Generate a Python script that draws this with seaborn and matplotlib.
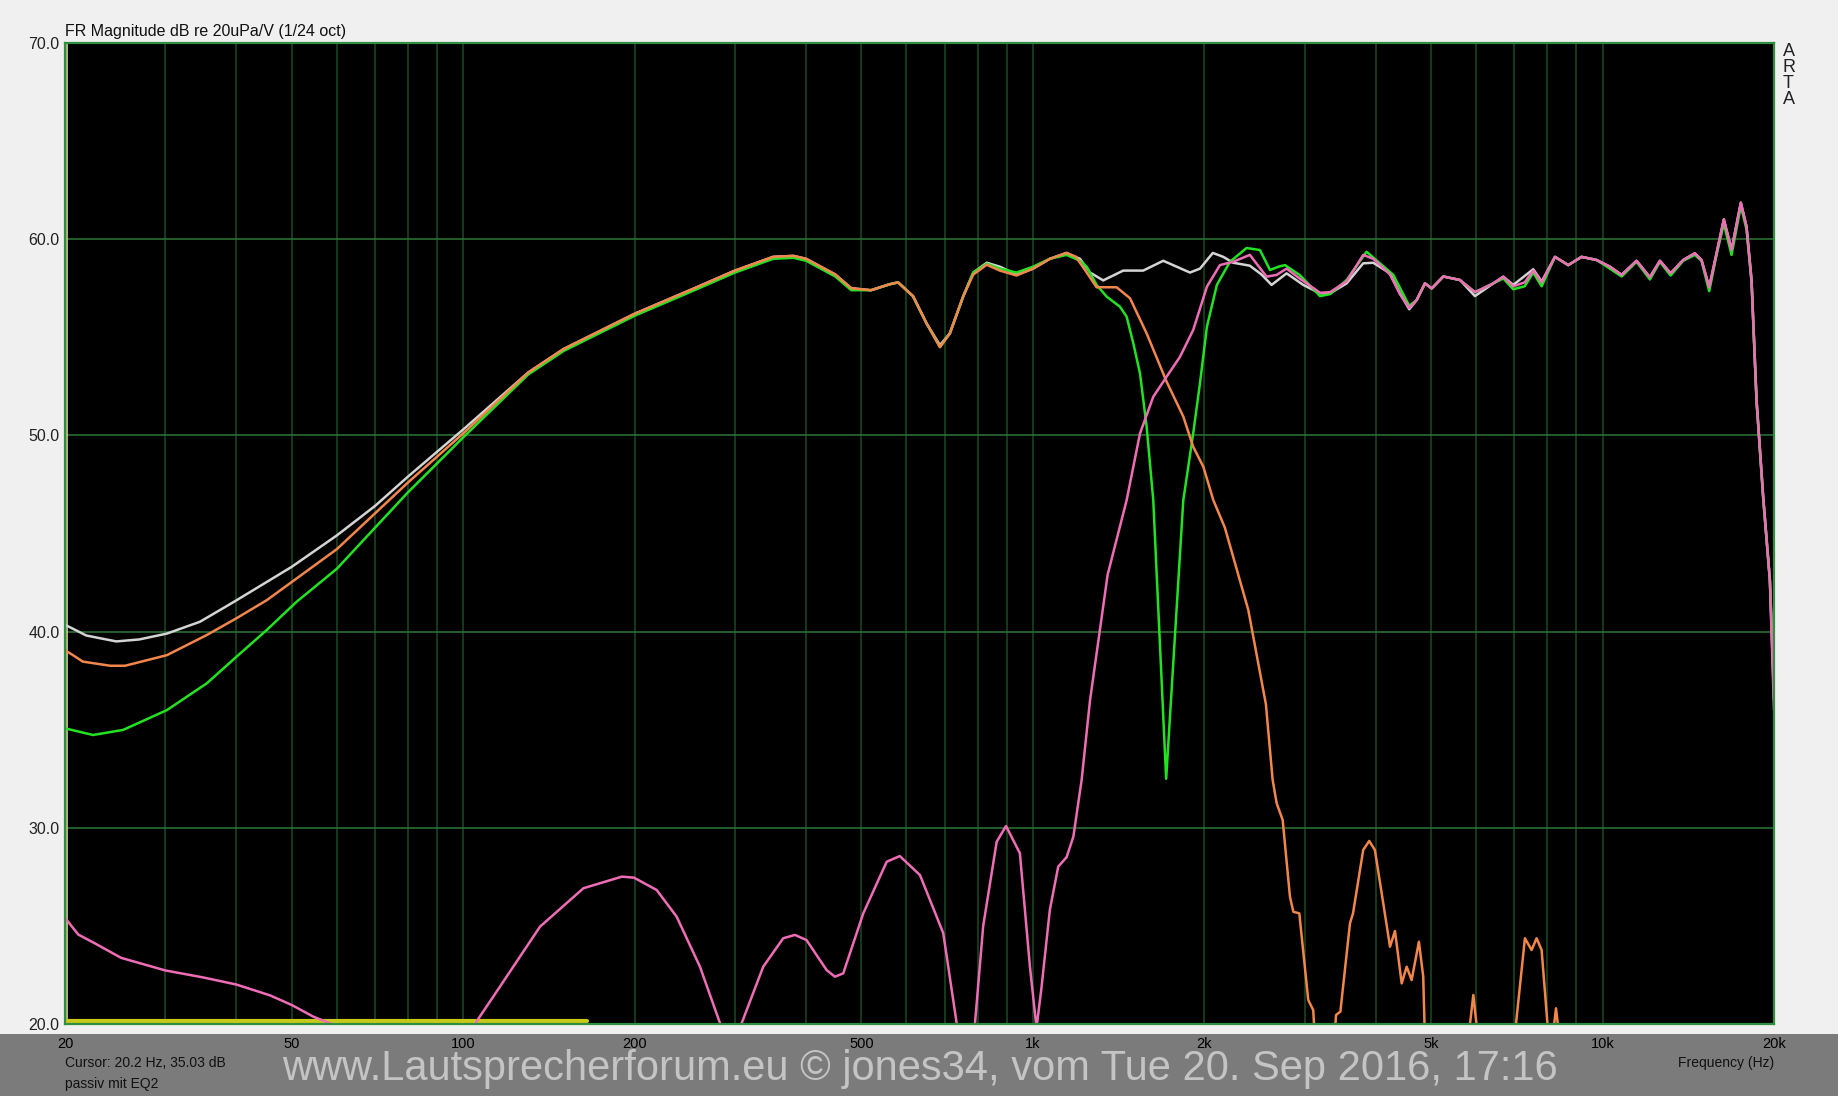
import matplotlib

matplotlib.use("Agg")

import matplotlib.pyplot as plt
import seaborn as sns
from matplotlib.patches import Rectangle
from matplotlib.ticker import FixedLocator, LogLocator, NullFormatter

TITLE = "FR Magnitude dB re 20uPa/V (1/24 oct)"
WATERMARK = "www.Lautsprecherforum.eu \u00a9 jones34, vom Tue 20. Sep 2016, 17:16"
CURSOR_TEXT = "Cursor: 20.2 Hz, 35.03 dB"
NOTE_TEXT = "passiv mit EQ2"

tick_freqs = [20, 50, 100, 200, 500, 1000, 2000, 5000, 10000, 20000]
tick_labels = ["20", "50", "100", "200", "500", "1k", "2k", "5k", "10k", "20k"]
db_ticks = [20, 30, 40, 50, 60, 70]
db_labels = ["20.0", "30.0", "40.0", "50.0", "60.0", "70.0"]

cursor_freq = 20.2

# yellow reference trace at the bottom
ref_freq = [20, 165]
ref_db = [20.15, 20.15]

# white: summed response
white_freq = [
    20, 21.8, 24.6, 27, 30.2, 34.5, 39.5, 50, 60, 70, 80, 100, 130, 150, 200, 250, 300,
    350, 380, 400, 450, 480, 520, 560, 580, 616, 651, 687, 715, 755, 786, 830, 875, 936,
    1001, 1071, 1146, 1210, 1260, 1329, 1441, 1562, 1694, 1788, 1887, 1965, 2070, 2159,
    2247, 2404, 2520, 2625, 2789, 2983, 3192, 3324, 3555, 3801, 3959, 4236, 4410, 4579,
    4718, 4879, 5014, 5255, 5620, 5971, 6433, 6697, 6972, 7558, 7819, 8252, 8707, 9189,
    9764, 10304, 10804, 11475, 12112, 12611, 13168, 13855, 14523, 14922, 15391, 15855,
    16329, 16846, 17490, 17898, 18264, 18638, 19143, 19669, 20000,
]
white_db = [
    40.35, 39.8, 39.5, 39.6, 39.9, 40.5, 41.5, 43.3, 44.9, 46.4, 47.9, 50.3, 53.2, 54.4,
    56.2, 57.4, 58.4, 59.1, 59.15, 59.0, 58.2, 57.5, 57.4, 57.7, 57.8, 57.1, 55.7, 54.6,
    55.2, 57.1, 58.3, 58.8, 58.6, 58.2, 58.5, 59.0, 59.3, 59.0, 58.3, 57.9, 58.4, 58.4,
    58.9, 58.6, 58.3, 58.5, 59.3, 59.1, 58.8, 58.65, 58.2, 57.67, 58.26, 57.67, 57.24,
    57.24, 57.75, 58.77, 58.8, 58.26, 57.24, 56.43, 56.9, 57.75, 57.49, 58.1, 57.92, 57.1,
    57.75, 58.09, 57.67, 58.47, 57.84, 59.1, 58.68, 59.1, 58.94, 58.6, 58.18, 58.9, 58.06,
    58.9, 58.26, 58.94, 59.28, 58.94, 57.55, 59.28, 61.01, 59.45, 61.86, 60.64, 57.92,
    51.8, 46.88, 42.63, 36.5,
]

# green: summed response with the notch
green_freq = [
    20, 22.4, 25.3, 30.2, 35.5, 40, 45.2, 51, 60, 80, 100, 130, 150, 200, 250, 300, 350,
    380, 400, 450, 480, 520, 560, 580, 616, 651, 687, 715, 755, 786, 830, 875, 936, 1001,
    1071, 1146, 1210, 1243, 1294, 1348, 1422, 1461, 1501, 1542, 1584, 1627, 1714, 1837,
    1912, 1965, 2021, 2104, 2218, 2372, 2504, 2608, 2700, 2771, 2939, 3192, 3324, 3555,
    3853, 4293, 4579, 4718, 4879, 5014, 5255, 5620, 5971, 6433, 6697, 6972, 7300, 7558,
    7819, 8252, 8707, 9189, 9764, 10304, 10804, 11475, 12112, 12611, 13168, 13855, 14523,
    14922, 15391, 15855, 16329, 16846, 17490, 17898, 18264, 18638, 19143, 19669, 20000,
]
green_db = [
    35.07, 34.73, 34.99, 36.0, 37.37, 38.72, 40.08, 41.52, 43.2, 47.1, 49.9, 53.1, 54.3,
    56.1, 57.3, 58.3, 59.0, 59.05, 58.9, 58.1, 57.4, 57.4, 57.7, 57.8, 57.1, 55.7, 54.5,
    55.2, 57.1, 58.3, 58.75, 58.5, 58.3, 58.6, 59.0, 59.2, 58.9, 58.6, 57.67, 57.07, 56.56,
    56.05, 54.69, 53.16, 50.44, 46.7, 32.5, 46.7, 50.1, 52.66, 55.54, 57.67, 58.85, 59.55,
    59.45, 58.43, 58.6, 58.68, 58.18, 57.1, 57.2, 57.92, 59.36, 58.18, 56.6, 56.9, 57.75,
    57.49, 58.1, 57.92, 57.3, 57.75, 58.0, 57.45, 57.6, 58.3, 57.6, 59.1, 58.68, 59.1,
    58.94, 58.5, 58.1, 58.85, 57.95, 58.85, 58.15, 58.9, 59.2, 58.9, 57.35, 59.2, 60.8,
    59.2, 61.7, 60.5, 57.8, 51.7, 46.8, 42.6, 37.5,
]

# orange: woofer
orange_freq = [
    20, 21.5, 24, 25.5, 30.2, 35.5, 40, 45.2, 60, 80, 100, 130, 150, 200, 250, 300, 350,
    380, 400, 450, 480, 520, 560, 580, 616, 651, 687, 715, 755, 786, 830, 875, 936, 1001,
    1071, 1146, 1190, 1230, 1294, 1403, 1481, 1584, 1717, 1837, 1912, 1992, 2074, 2173,
    2389, 2565, 2636, 2679, 2745, 2827, 2866, 2936, 3044, 3106, 3130, 3250, 3380, 3406,
    3466, 3603, 3648, 3801, 3895, 3985, 4122, 4236, 4322, 4441, 4531, 4623, 4761, 4845,
    4880, 5300, 5800, 5932, 6060, 6500, 6990, 7308, 7508, 7661, 7818, 8031, 8150, 8286,
    8423, 9000, 12000, 20000,
]
orange_db = [
    39.06, 38.47, 38.26, 38.26, 38.8, 39.83, 40.68, 41.6, 44.2, 47.6, 50.1, 53.2, 54.4,
    56.2, 57.4, 58.4, 59.1, 59.15, 59.0, 58.2, 57.5, 57.4, 57.7, 57.8, 57.1, 55.7, 54.5,
    55.2, 57.1, 58.2, 58.7, 58.4, 58.15, 58.5, 59.0, 59.3, 59.1, 58.5, 57.55, 57.55, 56.99,
    55.2, 52.74, 50.96, 49.42, 48.4, 46.7, 45.3, 41.1, 36.3, 32.44, 31.25, 30.4, 26.49,
    25.72, 25.64, 21.22, 20.71, 19.0, 15.0, 19.0, 20.46, 20.63, 25.13, 25.64, 28.87, 29.33,
    28.87, 26.15, 23.94, 24.74, 22.07, 22.92, 22.24, 24.19, 22.41, 19.0, 14.0, 19.0, 21.48,
    19.0, 14.0, 19.0, 24.37, 23.77, 24.37, 23.77, 19.5, 19.0, 20.8, 19.0, 12.0, 8.0, 5.0,
]

# pink: tweeter
pink_freq = [
    20, 21.1, 22.6, 25.1, 30, 35, 40, 45.8, 50, 54.6, 60, 65, 75, 90, 100, 105.5, 116,
    136.4, 162.6, 189.9, 199.4, 218.6, 237, 260.4, 282.4, 295, 308.2, 336.3, 364.6, 382.2,
    400.5, 434.5, 449.3, 464.7, 503.9, 553.9, 584, 633.7, 696.2, 735, 760, 791.5, 818.2,
    864, 897.2, 949, 988.3, 1015, 1036, 1071, 1108, 1146, 1178, 1218, 1260, 1353, 1461,
    1542, 1627, 1717, 1812, 1912, 2021, 2130, 2247, 2404, 2572, 2679, 2789, 2939, 3192,
    3324, 3555, 3801, 3959, 4236, 4410, 4579, 4718, 4879, 5014, 5255, 5620, 5971, 6433,
    6697, 6972, 7300, 7558, 7819, 8252, 8707, 9189, 9764, 10304, 10804, 11475, 12112,
    12611, 13168, 13855, 14523, 14922, 15391, 15855, 16329, 16846, 17490, 17898, 18264,
    18638, 19143, 19669, 20000,
]
pink_db = [
    25.41, 24.56, 24.1, 23.37, 22.73, 22.37, 22.01, 21.46, 20.97, 20.37, 19.9, 18.5, 16.5,
    16.0, 18.5, 20.12, 21.9, 24.96, 26.92, 27.51, 27.46, 26.83, 25.47, 22.92, 20.04, 17.5,
    20.04, 22.92, 24.37, 24.54, 24.28, 22.75, 22.41, 22.58, 25.64, 28.27, 28.56, 27.59,
    24.63, 20.04, 17.5, 20.04, 25.0, 29.29, 30.09, 28.7, 22.92, 19.8, 21.9, 25.81, 28.02,
    28.5, 29.55, 32.44, 36.5, 42.9, 46.7, 50.1, 51.97, 52.99, 54.0, 55.37, 57.58, 58.68,
    58.85, 59.2, 58.09, 58.18, 58.5, 58.0, 57.27, 57.3, 57.85, 59.2, 59.0, 58.2, 57.2, 56.5,
    56.9, 57.75, 57.49, 58.1, 57.92, 57.3, 57.75, 58.09, 57.6, 57.8, 58.4, 57.8, 59.1,
    58.68, 59.1, 58.94, 58.6, 58.18, 58.9, 58.06, 58.9, 58.26, 58.94, 59.28, 58.94, 57.55,
    59.28, 61.01, 59.45, 61.86, 60.64, 57.92, 51.8, 46.88, 42.63, 36.0,
]

BG = "#f0f0f0"
BAND = "#7b7b7b"
GRID_V = "#1b4a23"
GRID_H = "#2b7736"
SPINE = "#2f8f40"
FONT = ["Liberation Sans", "DejaVu Sans"]

sns.set_style("dark")
plt.rcParams["font.family"] = FONT

fig = plt.figure(figsize=(18.38, 10.96), dpi=100, facecolor=BG)
ax = fig.add_axes([65 / 1838, 72 / 1096, 1709 / 1838, 981 / 1096])
ax.set_facecolor("black")
ax.set_zorder(6)

# grey status band at the bottom
fig.patches.append(Rectangle((0, 0), 1, 62 / 1096, transform=fig.transFigure,
                             facecolor=BAND, edgecolor="none", zorder=1))

ax.set_xscale("log")
ax.set_xlim(20, 20000)
ax.set_ylim(20, 70)

ax.xaxis.set_major_locator(FixedLocator(tick_freqs))
ax.set_xticklabels(tick_labels)
ax.xaxis.set_minor_locator(LogLocator(base=10, subs=range(1, 10), numticks=100))
ax.xaxis.set_minor_formatter(NullFormatter())
ax.set_yticks(db_ticks)
ax.set_yticklabels(db_labels)

ax.grid(which="both", axis="x", color=GRID_V, linewidth=1.1)
ax.grid(which="major", axis="y", color=GRID_H, linewidth=1.1)
ax.tick_params(which="both", length=0)
ax.tick_params(axis="y", labelsize=11.5, pad=4, labelcolor="#222222")
ax.tick_params(axis="x", labelsize=10.5, pad=9, labelcolor="black")

for side in ax.spines.values():
    side.set_color(SPINE)
    side.set_linewidth(1.6)

ax.axvline(cursor_freq, color="#d8d890", linewidth=1.2, zorder=2)

sns.lineplot(x=ref_freq, y=ref_db, ax=ax, color="#c8c818", linewidth=3, estimator=None)
sns.lineplot(x=white_freq, y=white_db, ax=ax, color="#d4d4d4", linewidth=1.8, estimator=None)
sns.lineplot(x=green_freq, y=green_db, ax=ax, color="#22e222", linewidth=1.8, estimator=None)
sns.lineplot(x=orange_freq, y=orange_db, ax=ax, color="#f3864a", linewidth=1.8, estimator=None)
sns.lineplot(x=pink_freq, y=pink_db, ax=ax, color="#ef6db6", linewidth=1.8, estimator=None)

ax.set_xlabel("")
ax.set_ylabel("")
ax.set_title(TITLE, loc="left", pad=5, fontsize=11.5, color="#111111")

ax.text(1.005, 1.0, "A\nR\nT\nA", transform=ax.transAxes, ha="left", va="top",
        fontsize=13, linespacing=0.93, color="#222222")

fig.text(65 / 1838, 1 - 1063 / 1096, CURSOR_TEXT, ha="left", va="center",
         fontsize=10, color="#111111", zorder=7)
fig.text(65 / 1838, 1 - 1084 / 1096, NOTE_TEXT, ha="left", va="center",
         fontsize=10, color="#111111", zorder=7)
fig.text(1774 / 1838, 1 - 1063 / 1096, "Frequency (Hz)", ha="right", va="center",
         fontsize=10, color="#111111", zorder=7)
fig.text(920 / 1838, 1 - 1069 / 1096, WATERMARK, ha="center", va="center",
         fontsize=30, color="#c4c4c4", zorder=7)

fig.savefig("out.png", dpi=100, facecolor=BG)
plt.close(fig)
